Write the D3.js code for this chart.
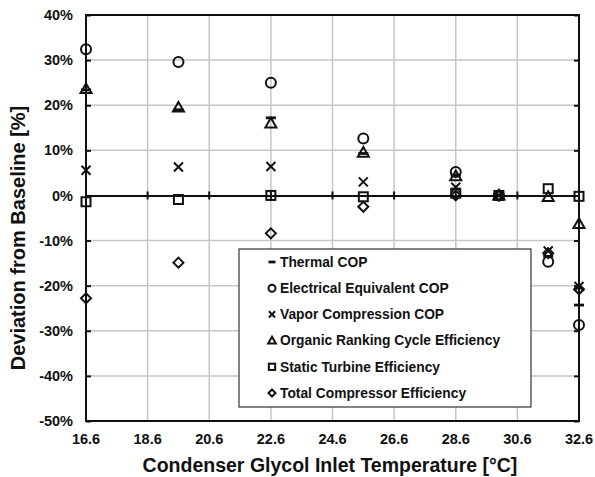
<!DOCTYPE html>
<html>
<head>
<meta charset="utf-8">
<script src="https://cdn.jsdelivr.net/npm/d3@7"></script>
<style>
  html, body { margin: 0; padding: 0; background: #fff; }
  svg { display: block; font-family: "Liberation Sans", Arial, sans-serif; }
</style>
</head>
<body>
<svg id="chart" width="595" height="477"></svg>
<script>
// ---- data ----
const temps = [16.6, 19.6, 22.6, 25.6, 28.6, 30.0, 31.6, 32.6];
const thermalCOP = [23.4, 19.0, 17.2, 9.3, 4.5, 0, -13.5, -24.3];
const electricalCOP = [32.4, 29.6, 25.0, 12.6, 5.2, 0, -14.7, -28.7];
const vaporCOP = [5.6, 6.3, 6.4, 3.0, 1.8, 0, -12.3, -20.2];
const orcEff = [23.6, 19.5, 16.0, 9.5, 4.3, 0, -0.3, -6.3];
const turbineEff = [-1.4, -0.9, 0, -0.3, 0.5, 0, 1.5, -0.2];
const compressorEff = [-22.8, -14.9, -8.4, -2.5, 0, 0, -12.8, -20.8];
const xTicks = [16.6, 18.6, 20.6, 22.6, 24.6, 26.6, 28.6, 30.6, 32.6];
const yTicks = [40, 30, 20, 10, 0, -10, -20, -30, -40, -50];
const seriesNames = ["Thermal COP", "Electrical Equivalent COP", "Vapor Compression COP",
  "Organic Ranking Cycle Efficiency", "Static Turbine Efficiency", "Total Compressor Efficiency"];
const seriesSymbols = ["dash", "circle", "cross", "triangle", "square", "diamond"];
const seriesValues = [thermalCOP, electricalCOP, vaporCOP, orcEff, turbineEff, compressorEff];

// ---- layout ----
const L = 86, R = 579, T = 15, B = 421;
const svg = d3.select("#chart");
const x = d3.scaleLinear().domain([16.6, 32.6]).range([L, R]);
const y = d3.scaleLinear().domain([-50, 40]).range([B, T]);

// gridlines
const grid = svg.append("g");
grid.selectAll(".gx").data(xTicks.slice(1, -1)).enter().append("line")
  .attr("x1", d => x(d)).attr("x2", d => x(d)).attr("y1", T).attr("y2", B)
  .attr("stroke", "#c6c6c6").attr("stroke-width", 1.5);
grid.selectAll(".gy").data(yTicks.filter(d => d !== 0 && d !== 40 && d !== -50)).enter().append("line")
  .attr("y1", d => y(d)).attr("y2", d => y(d)).attr("x1", L).attr("x2", R)
  .attr("stroke", "#c6c6c6").attr("stroke-width", 1.5);

// frame
svg.append("rect").attr("x", L).attr("y", T).attr("width", R - L).attr("height", B - T)
  .attr("fill", "none").attr("stroke", "#111").attr("stroke-width", 2);

// y axis tick marks (left & right, inward)
const yAxisL = d3.axisRight(y).tickValues(yTicks).tickSize(5).tickFormat("");
svg.append("g").attr("transform", `translate(${L},0)`).call(yAxisL)
  .call(g => g.select(".domain").remove())
  .call(g => g.selectAll("line").attr("stroke", "#111").attr("stroke-width", 2));
const yAxisR = d3.axisLeft(y).tickValues(yTicks).tickSize(5).tickFormat("");
svg.append("g").attr("transform", `translate(${R},0)`).call(yAxisR)
  .call(g => g.select(".domain").remove())
  .call(g => g.selectAll("line").attr("stroke", "#111").attr("stroke-width", 2));

// y tick labels
svg.append("g").selectAll("text").data(yTicks).enter().append("text")
  .attr("x", 73).attr("y", d => y(d)).attr("dy", "0.35em")
  .attr("text-anchor", "end").attr("font-size", 14.5).attr("font-weight", "bold")
  .attr("fill", "#111").text(d => d + "%");

// zero line with tick crossings
const xAxis = d3.axisBottom(x).tickValues(xTicks).tickSize(0).tickFormat("");
svg.append("g").attr("transform", `translate(0,${y(0)})`).call(xAxis)
  .call(g => g.select(".domain").attr("stroke", "#111").attr("stroke-width", 2));
svg.append("g").selectAll("line").data(xTicks.slice(1, -1)).enter().append("line")
  .attr("x1", d => x(d)).attr("x2", d => x(d)).attr("y1", y(0) - 4).attr("y2", y(0) + 4)
  .attr("stroke", "#111").attr("stroke-width", 2);

// x tick labels
svg.append("g").selectAll("text").data(xTicks).enter().append("text")
  .attr("x", d => x(d)).attr("y", 444).attr("text-anchor", "middle")
  .attr("font-size", 14.5).attr("font-weight", "bold").attr("fill", "#111")
  .text(d => d.toFixed(1));

// axis titles
svg.append("text").attr("x", 330).attr("y", 472).attr("text-anchor", "middle")
  .attr("font-size", 19.5).attr("font-weight", "bold").attr("fill", "#111")
  .text("Condenser Glycol Inlet Temperature [°C]");
svg.append("text").attr("transform", `translate(25,${(T + B) / 2 + 20}) rotate(-90)`)
  .attr("text-anchor", "middle").attr("font-size", 20).attr("font-weight", "bold").attr("fill", "#111")
  .text("Deviation from Baseline [%]");

// marker drawing
function drawMarker(g, sym, cx, cy, s) {
  s = s || 1;
  const st = { stroke: "#111", "stroke-width": 2, fill: "none" };
  let el;
  if (sym === "circle") {
    el = g.append("circle").attr("cx", cx).attr("cy", cy).attr("r", 5 * s);
  } else if (sym === "square") {
    el = g.append("rect").attr("x", cx - 4.5 * s).attr("y", cy - 4.5 * s).attr("width", 9 * s).attr("height", 9 * s);
  } else if (sym === "triangle") {
    const h = 5.5 * s;
    el = g.append("path").attr("d", `M${cx},${cy - h}L${cx + h},${cy + h * 0.75}L${cx - h},${cy + h * 0.75}Z`);
  } else if (sym === "cross") {
    const h = 4.5 * s;
    el = g.append("path").attr("d", `M${cx - h},${cy - h}L${cx + h},${cy + h}M${cx - h},${cy + h}L${cx + h},${cy - h}`);
  } else if (sym === "diamond") {
    const h = 5 * s;
    el = g.append("path").attr("d", `M${cx},${cy - h}L${cx + h},${cy}L${cx},${cy + h}L${cx - h},${cy}Z`);
  } else if (sym === "dash") {
    el = g.append("path").attr("d", `M${cx - 5 * s},${cy}L${cx + 5 * s},${cy}`);
    st["stroke-width"] = 2.8;
  }
  Object.entries(st).forEach(([k, v]) => el.attr(k, v));
}

// points
const pts = svg.append("g");
seriesValues.forEach((vals, i) => {
  vals.forEach((v, j) => drawMarker(pts, seriesSymbols[i], x(temps[j]), y(v)));
});

// legend
const lg = svg.append("g");
lg.append("rect").attr("x", 239).attr("y", 249).attr("width", 292).attr("height", 158)
  .attr("fill", "#fff").attr("stroke", "#333").attr("stroke-width", 1.2);
seriesNames.forEach((name, i) => {
  const cy = 262 + i * 26.2;
  drawMarker(lg, seriesSymbols[i], 272, cy, 0.7);
  lg.append("text").attr("x", 280).attr("y", cy).attr("dy", "0.35em")
    .attr("font-size", 13.8).attr("font-weight", "bold").attr("fill", "#111").text(name);
});
</script>
</body>
</html>
